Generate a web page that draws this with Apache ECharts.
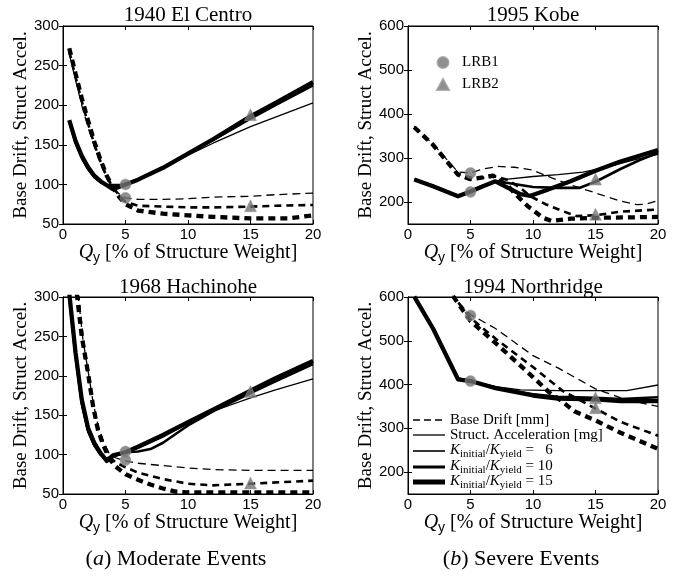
<!DOCTYPE html>
<html>
<head>
<meta charset="utf-8">
<script src="https://cdn.jsdelivr.net/npm/echarts@6/dist/echarts.min.js"></script>
<style>html,body{margin:0;padding:0;background:#fff}#c{width:680px;height:577px}</style>
</head>
<body>
<div id="c"></div>
<script>
// ---------- data ----------
const xTicks = [0, 5, 10, 15, 20];
const titles = ['1940 El Centro', '1995 Kobe', '1968 Hachinohe', '1994 Northridge'];
const yRanges = [[50, 300], [150, 600], [50, 300], [150, 600]];
const yTicksModerate = [50, 100, 150, 200, 250, 300];
const yTicksSevere = [200, 300, 400, 500, 600];

// El Centro
const ecDriftK6 = [[0.5,265],[1,232],[1.5,200],[2,172],[2.5,148],[3,126],[3.5,108],[4,95],[4.5,88],[5,83],[6,81],[8,81],[10,82],[12,84],[15,85],[17,87],[20,89]];
const ecDriftK10 = [[0.5,268],[1,236],[1.5,205],[2,177],[2.5,151],[3,129],[3.5,110],[4,96],[4.5,86],[5,78],[6,73],[8,72],[10,71],[12,71],[15,72],[17,73],[20,74]];
const ecDriftK15 = [[0.5,272],[1,240],[1.5,209],[2,181],[2.5,154],[3,131],[3.5,111],[4,96],[4.5,84],[5,75],[6,67],[8,63],[10,61],[12,59],[15,57],[18,57],[20,61]];
const ecAccK6 = [[0.5,179],[1,152],[1.5,132],[2,118],[2.5,108],[3,102],[3.5,100],[4,100],[5,100],[6,106],[8,120],[10,137],[12,152],[15,173],[17,185],[20,203]];
const ecAccK10 = [[0.5,180],[1,153],[1.5,134],[2,120],[2.5,110],[3,103],[3.5,99],[4,97],[5,100],[6,106],[8,121],[10,139],[12,156],[15,183],[17,200],[20,225]];
const ecAccK15 = [[0.5,181],[1,155],[1.5,136],[2,122],[2.5,111],[3,104],[3.5,99],[4,94],[4.5,97],[5,100],[6,106],[8,121],[10,139],[12,157],[15,186],[17,203],[20,229]];
const ecLRB1 = [[5,100],[5,83]];
const ecLRB2 = [[15,188],[15,73]];

// Kobe
const kbDriftK6 = [[0.5,372],[2,332],[4,268],[5,266],[6,275],[7.2,281],[8.5,279],[9.9,273],[11.5,255],[13,239],[15.4,217],[17,202],[18.3,194],[19,195],[20,203]];
const kbDriftK10 = [[0.5,370],[2,330],[4,264],[5,255],[6,255],[7,258],[8,250],[9,232],[9.8,213],[11,195],[12.4,179],[13.5,168],[15,170],[17,178],[20,183]];
const kbDriftK15 = [[0.5,370],[2,330],[4,262],[5,252],[6,256],[6.8,260],[8,236],[8.7,215],[9.6,190],[10.8,164],[11.5,157],[13,162],[15,164],[20,166]];
const kbAccK6 = [[0.5,251],[2,238],[4,214],[5,224],[6,238],[7,248],[8,252],[10,258],[12,262],[14,268],[16,280],[18,295],[20,308]];
const kbAccK10 = [[0.5,251],[2,237],[4,214],[5,224],[6,237],[7,247],[8,243],[10,234],[12,232],[13.7,232],[15,246],[17,275],[18.5,295],[20,312]];
const kbAccK15 = [[0.5,251],[2,236],[4,213],[5,224],[6,236],[7,247],[8,232],[9,218],[9.8,214],[11,226],[13,247],[15,271],[17,292],[20,318]];
const kbLRB1 = [[5,266],[5,223]];
const kbLRB2 = [[15,252],[15,172]];

// Hachinohe
const hcDriftK6 = [[1.2,305],[1.6,245],[2,207],[2.4,167],[2.8,137],[3.2,118],[3.7,101],[4.2,96],[5,92],[6,89],[8,86],[10,83],[12,81],[15,80],[20,80]];
const hcDriftK10 = [[1.2,305],[1.6,243],[2,205],[2.4,164],[2.8,134],[3.2,116],[3.7,98],[4.2,90],[5,84],[6,77],[8,69],[10,63],[12,61],[15,63],[20,67]];
const hcDriftK15 = [[1.1,305],[1.5,250],[2,204],[2.4,162],[2.8,131],[3.2,113],[3.7,95],[4.2,85],[5,75],[6,68],[7,62],[8,57],[9,53],[10,52],[15,52],[20,52]];
const hcAccK6 = [[0.5,298],[1,222],[1.5,162],[2,128],[2.5,110],[3,99],[3.5,96],[4,98],[5,103],[6,108],[8,122],[10,140],[12,155],[15,172],[17,182],[20,196]];
const hcAccK10 = [[0.5,300],[1,225],[1.5,165],[2,130],[2.5,112],[3,100],[3.5,94],[4,98],[5,103],[6,104],[7,107],[8,115],[10,137],[12,155],[15,178],[17,193],[20,215]];
const hcAccK15 = [[0.5,305],[1,230],[1.5,170],[2,134],[2.5,115],[3,102],[3.5,92],[4,99],[5,103],[6,110],[8,125],[10,141],[12,157],[15,181],[17,197],[20,219]];
const hcLRB1 = [[5,104],[5,93]];
const hcLRB2 = [[15,180],[15,64]];

// Northridge
const nrDriftK6 = [[3.5,612],[4,588],[5,560],[7,528],[10,466],[12,438],[15,390],[17.5,365],[20,350]];
const nrDriftK10 = [[3.5,610],[4,588],[5,552],[7,505],[10,440],[12.4,385],[15,345],[17,315],[20,283]];
const nrDriftK15 = [[3.6,602],[5,545],[7,495],[10,417],[11.3,382],[12.3,362],[13.3,339],[15,318],[17,290],[20,253]];
const nrAccK6 = [[0.5,600],[2,530],[4,415],[5,408],[7,395],[9,388],[12,386],[15,386],[17.5,386],[20,399]];
const nrAccK10 = [[0.5,600],[2,529],[4,414],[5,408],[7,393],[10,378],[12,372],[15,370],[17,367],[20,371]];
const nrAccK15 = [[0.5,601],[2,528],[4,412],[5,408],[7,392],[10,375],[12,368],[15,366],[17,362],[20,362]];
const nrLRB1 = [[5,558],[5,408]];
const nrLRB2 = [[15,370],[15,347]];

const panelData = [
  {drift: [ecDriftK6, ecDriftK10, ecDriftK15], acc: [ecAccK6, ecAccK10, ecAccK15], lrb1: ecLRB1, lrb2: ecLRB2},
  {drift: [kbDriftK6, kbDriftK10, kbDriftK15], acc: [kbAccK6, kbAccK10, kbAccK15], lrb1: kbLRB1, lrb2: kbLRB2},
  {drift: [hcDriftK6, hcDriftK10, hcDriftK15], acc: [hcAccK6, hcAccK10, hcAccK15], lrb1: hcLRB1, lrb2: hcLRB2},
  {drift: [nrDriftK6, nrDriftK10, nrDriftK15], acc: [nrAccK6, nrAccK10, nrAccK15], lrb1: nrLRB1, lrb2: nrLRB2}
];

// ---------- layout / style ----------
const SERIF = '"Liberation Serif", "DejaVu Serif", serif';
const SANS = '"Liberation Sans", Arial, sans-serif';
const grids = [
  {left: 63, top: 26, width: 250, height: 198},
  {left: 408, top: 26, width: 250, height: 198},
  {left: 63, top: 297, width: 250, height: 197},
  {left: 408, top: 297, width: 250, height: 197}
];
const widths = [1.3, 2.6, 4.3];
const dashes = [[8, 5], [7, 5], [7, 5]];
const markerColor = '#737373';

const xAxes = [], yAxes = [], series = [];
grids.forEach((g, i) => {
  const tickLine = {show: true, inside: true, length: 4, lineStyle: {color: '#000', width: 1}};
  const axLine = {show: true, lineStyle: {color: '#000', width: 1}};
  const xName = '{q|Q}{s|y}{n| [% of Structure Weight]}';
  xAxes.push({
    gridIndex: i, type: 'value', min: 0, max: 20, interval: 5, position: 'bottom',
    axisLine: axLine, axisTick: tickLine, splitLine: {show: false},
    axisLabel: {color: '#000', fontFamily: SANS, fontSize: 15, margin: 3},
    name: xName, nameLocation: 'middle', nameGap: 19,
    nameTextStyle: {
      rich: {
        q: {fontFamily: SERIF, fontStyle: 'italic', fontSize: 20, color: '#000', lineHeight: 22, verticalAlign: 'top'},
        s: {fontFamily: SANS, fontSize: 14, color: '#000', lineHeight: 12, verticalAlign: 'bottom'},
        n: {fontFamily: SERIF, fontSize: 20, color: '#000', lineHeight: 22, verticalAlign: 'top'}
      }
    }
  });
  xAxes.push({
    gridIndex: i, type: 'value', min: 0, max: 20, interval: 5, position: 'top',
    axisLine: axLine, axisTick: tickLine, axisLabel: {show: false}, splitLine: {show: false}
  });
  const severe = (i === 1 || i === 3);
  const yr = yRanges[i];
  const yBase = {
    gridIndex: i, type: 'value', min: yr[0], max: yr[1], splitLine: {show: false}, axisLine: axLine
  };
  const yNameCfg = {
    name: 'Base Drift, Struct Accel.', nameLocation: 'middle', nameGap: 28,
    nameTextStyle: {fontFamily: SERIF, fontSize: 19, color: '#000'}
  };
  if (severe) {
    yAxes.push(Object.assign({}, yBase, yNameCfg, {
      position: 'left',
      axisTick: Object.assign({}, tickLine, {customValues: yTicksSevere}),
      axisLabel: {color: '#000', fontFamily: SANS, fontSize: 15, margin: 4, customValues: yTicksSevere}
    }));
    yAxes.push(Object.assign({}, yBase, {
      position: 'right',
      axisTick: Object.assign({}, tickLine, {customValues: yTicksSevere}),
      axisLabel: {show: false}
    }));
  } else {
    yAxes.push(Object.assign({}, yBase, yNameCfg, {
      position: 'left', interval: 50,
      axisTick: tickLine,
      axisLabel: {color: '#000', fontFamily: SANS, fontSize: 15, margin: 4}
    }));
    yAxes.push(Object.assign({}, yBase, {
      position: 'right', interval: 50,
      axisTick: tickLine, axisLabel: {show: false}
    }));
  }
  const pd = panelData[i];
  for (let k = 0; k < 3; k++) {
    series.push({
      type: 'line', xAxisIndex: 2 * i, yAxisIndex: 2 * i, data: pd.drift[k],
      symbol: 'none', silent: true, clip: true, z: 2,
      lineStyle: {color: '#000', width: widths[k], type: dashes[k], cap: 'butt'}
    });
    series.push({
      type: 'line', xAxisIndex: 2 * i, yAxisIndex: 2 * i, data: pd.acc[k],
      symbol: 'none', silent: true, clip: true, z: 2,
      lineStyle: {color: '#000', width: widths[k], type: 'solid', join: 'round'}
    });
  }
  series.push({
    type: 'scatter', name: 'LRB1', xAxisIndex: 2 * i, yAxisIndex: 2 * i, data: pd.lrb1,
    symbol: 'circle', symbolSize: 11, z: 5, silent: true,
    itemStyle: {color: markerColor, borderColor: '#9a9a9a', borderWidth: 0.6}
  });
  series.push({
    type: 'scatter', name: 'LRB2', xAxisIndex: 2 * i, yAxisIndex: 2 * i, data: pd.lrb2,
    symbol: 'triangle', symbolSize: 12, z: 5, silent: true,
    itemStyle: {color: markerColor, borderColor: '#9a9a9a', borderWidth: 0.6}
  });
});

// ---------- text graphics ----------
const graphic = [];
const titlePos = [[188, 15], [533, 15], [188, 287], [533, 287]];
titles.forEach((t, i) => {
  graphic.push({type: 'text', x: titlePos[i][0], y: titlePos[i][1], z: 10,
    style: {text: t, font: '21px ' + SERIF, fill: '#000', align: 'center', verticalAlign: 'middle', textAlign: 'center', textVerticalAlign: 'middle'}});
});
const captions = [['a', 'Moderate Events', 176], ['b', 'Severe Events', 521]];
captions.forEach(c => {
  graphic.push({type: 'text', x: c[2], y: 559, z: 10,
    style: {text: '(' + '{i|' + c[0] + '}' + ') ' + c[1], font: '22px ' + SERIF, fill: '#000',
      align: 'center', verticalAlign: 'middle', textAlign: 'center', textVerticalAlign: 'middle',
      rich: {i: {fontStyle: 'italic', fontFamily: SERIF, fontSize: 22, fill: '#000'}}}});
});

// Kobe marker legend
const lrbLegend = [['circle', 'LRB1', 57], ['triangle', 'LRB2', 75]];
// Northridge line legend
const lineLegendLabels = [
  'Base Drift [mm]',
  'Struct. Acceleration [mg]',
  '{k|K}{s|initial}{n|/}{k|K}{s|yield}{n| =   6}',
  '{k|K}{s|initial}{n|/}{k|K}{s|yield}{n| = 10}',
  '{k|K}{s|initial}{n|/}{k|K}{s|yield}{n| = 15}'
];
const legendStyles = [
  {w: 1.3, dash: [7, 4]}, {w: 1.3, dash: null}, {w: 1.6, dash: null}, {w: 3, dash: null}, {w: 5, dash: null}
];
const legendY = [420, 435, 451, 467, 482];
lineLegendLabels.forEach((lab, j) => {
  const st = {stroke: '#000', lineWidth: legendStyles[j].w};
  if (legendStyles[j].dash) st.lineDash = legendStyles[j].dash;
  graphic.push({type: 'line', z: 10, shape: {x1: 413, y1: legendY[j], x2: 445, y2: legendY[j]}, style: st});
  graphic.push({type: 'text', x: 450, y: legendY[j], z: 10,
    style: {text: lab, font: '15px ' + SERIF, fill: '#000', align: 'left', verticalAlign: 'middle', textAlign: 'left', textVerticalAlign: 'middle',
      rich: {
        k: {fontFamily: SERIF, fontStyle: 'italic', fontSize: 15, lineHeight: 17, verticalAlign: 'top', fill: '#000'},
        s: {fontFamily: SERIF, fontSize: 11, lineHeight: 11, verticalAlign: 'bottom', fill: '#000'},
        n: {fontFamily: SERIF, fontSize: 15, lineHeight: 17, verticalAlign: 'top', fill: '#000'}
      }}});
});

const option = {
  animation: false,
  backgroundColor: '#fff',
  grid: grids.map(g => Object.assign({show: true, borderColor: '#000', borderWidth: 1, backgroundColor: 'transparent', containLabel: false}, g)),
  xAxis: xAxes,
  yAxis: yAxes,
  legend: {
    orient: 'vertical', left: 431, top: 50, itemGap: 7, itemWidth: 12, itemHeight: 11,
    data: lrbLegend.map(l => ({name: l[1], icon: l[0]})),
    selectedMode: false,
    textStyle: {fontFamily: SERIF, fontSize: 15, color: '#000', padding: [0, 0, 0, 8]}
  },
  series: series,
  graphic: graphic
};
echarts.init(document.getElementById('c'), null, {renderer: 'canvas'}).setOption(option);
</script>
</body>
</html>
